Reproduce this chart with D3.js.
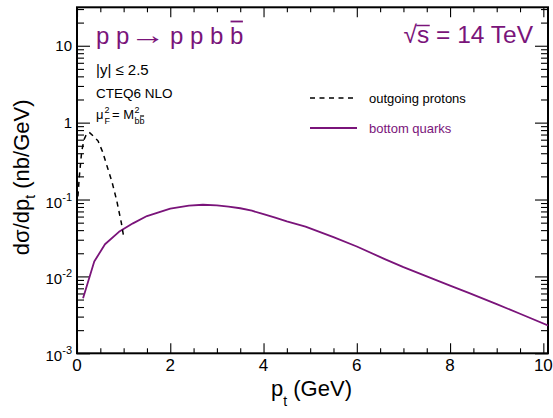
<!DOCTYPE html>
<html><head><meta charset="utf-8">
<script src="https://cdn.jsdelivr.net/npm/d3@7"></script>
<style>
body{margin:0;background:#fff}
text{font-family:"Liberation Sans",Arial,Helvetica,sans-serif}
</style></head><body>
<svg id="chart" width="553" height="418"></svg>
<script>
// transverse momentum (GeV) and dσ/dp_t (nb/GeV) for the b quarks
const ptBottom   = [0.13, 0.37, 0.6, 0.9, 1.2, 1.5, 2.0, 2.4, 2.7, 3.0, 3.25, 3.5, 3.75, 4.0, 4.25, 4.5, 4.9, 5.5, 6.0, 6.6, 7.0, 7.5, 8.0, 8.4, 9.0, 9.5, 10.1];
const xsecBottom = [0.0052, 0.0156, 0.0262, 0.038, 0.049, 0.061, 0.076, 0.0835, 0.0855, 0.084, 0.081, 0.077, 0.0715, 0.0645, 0.058, 0.052, 0.0445, 0.0324, 0.0245, 0.0168, 0.0132, 0.0100, 0.0076, 0.0061, 0.00436, 0.00327, 0.0023];
// same for the outgoing protons
const ptProton   = [0.02, 0.05, 0.1, 0.15, 0.2, 0.26, 0.35, 0.45, 0.55, 0.65, 0.75, 0.85, 0.95, 1.0];
const xsecProton = [0.11, 0.2, 0.42, 0.6, 0.7, 0.75, 0.67, 0.58, 0.415, 0.265, 0.17, 0.098, 0.05, 0.033];

const xMajorTicks = [0, 2, 4, 6, 8, 10];
const yDecades = [1e-3, 1e-2, 1e-1, 1, 10];
const yDecadeLabels = [["10", "-3"], ["10", "-2"], ["10", "-1"], ["1", ""], ["10", ""]];
const legendLabels = ["outgoing protons", "bottom quarks"];

const purple = "#7a147a";
const W = 553, H = 418;
const L = 77, R = 548, T = 7.3, B = 353.3;

const svg = d3.select("#chart");
svg.append("rect").attr("width", W).attr("height", H).attr("fill", "#fff");

const x = d3.scaleLinear().domain([0, 10.1]).range([L, R]);
const y = d3.scaleLog().domain([1e-3, Math.pow(10, 1.5)]).range([B, T]);

const xMinor = d3.range(0.5, 10.1, 0.5).filter(v => Math.abs(v % 2) > 1e-9);
const yMinor = [];
yDecades.forEach(d => { for (let m = 2; m <= 9; m++) if (d * m <= Math.pow(10, 1.5)) yMinor.push(d * m); });

// ticks on all four sides, pointing inward
function ticks(axisGen, tr, vals, size) {
  const g = svg.append("g").attr("transform", tr)
    .call(axisGen.tickValues(vals).tickSize(size).tickFormat(""));
  g.select(".domain").remove();
  g.selectAll("line").attr("stroke", "#000").attr("stroke-width", 1.1);
  return g;
}
ticks(d3.axisBottom(x), `translate(0,${B})`, xMajorTicks, -10);
ticks(d3.axisBottom(x), `translate(0,${B})`, xMinor, -5);
ticks(d3.axisTop(x), `translate(0,${T})`, xMajorTicks, -10);
ticks(d3.axisTop(x), `translate(0,${T})`, xMinor, -5);
ticks(d3.axisLeft(y), `translate(${L},0)`, yDecades, -13);
ticks(d3.axisLeft(y), `translate(${L},0)`, yMinor, -7);
ticks(d3.axisRight(y), `translate(${R},0)`, yDecades, -13);
ticks(d3.axisRight(y), `translate(${R},0)`, yMinor, -7);

// frame
svg.append("rect").attr("x", L).attr("y", T).attr("width", R - L).attr("height", B - T)
  .attr("fill", "none").attr("stroke", "#000").attr("stroke-width", 2);

// x tick labels
svg.append("g").selectAll("text").data(xMajorTicks).join("text")
  .attr("x", d => x(d)).attr("y", B + 18).attr("text-anchor", "middle")
  .style("font-size", "17px").text(d => d);

// y tick labels with exponents
yDecades.forEach((v, i) => {
  const [base, exp] = yDecadeLabels[i];
  const t = svg.append("text").attr("x", 72).attr("y", y(v) + (exp ? 8 : 5))
    .attr("text-anchor", "end").style("font-size", "15px");
  t.append("tspan").text(base);
  if (exp) t.append("tspan").attr("dy", -7).style("font-size", "11px").text(exp);
});

// axis titles
const xt = svg.append("text").attr("x", (L + R) / 2 - 1).attr("y", 396)
  .attr("text-anchor", "middle").style("font-size", "22px");
xt.append("tspan").text("p");
xt.append("tspan").attr("dy", 10).style("font-size", "14px").text("t");
xt.append("tspan").attr("dy", -10).text(" (GeV)");

const yt = svg.append("text").attr("transform", `translate(29,${(T + B) / 2 - 3}) rotate(-90)`)
  .attr("text-anchor", "middle").style("font-size", "22px");
yt.append("tspan").text("dσ/dp");
yt.append("tspan").attr("dy", 6).style("font-size", "14px").text("t");
yt.append("tspan").attr("dy", -6).text(" (nb/GeV)");

// curves
svg.append("clipPath").attr("id", "plotArea").append("rect")
  .attr("x", L).attr("y", T).attr("width", R - L).attr("height", B - T);
const line = d3.line().x(d => x(d[0])).y(d => y(d[1]));
svg.append("path").attr("clip-path", "url(#plotArea)")
  .attr("d", line(d3.zip(ptBottom, xsecBottom)))
  .attr("fill", "none").attr("stroke", purple).attr("stroke-width", 1.8)
  .attr("stroke-linejoin", "round");
svg.append("path").attr("clip-path", "url(#plotArea)")
  .attr("d", line(d3.zip(ptProton, xsecProton)))
  .attr("fill", "none").attr("stroke", "#000").attr("stroke-width", 1.5)
  .attr("stroke-dasharray", "5,4.5");

// overline helper: bar over character i of a text element
function overline(textSel, i, dyTop, color, width) {
  const n = textSel.node();
  const s = n.getStartPositionOfChar(i), e = n.getEndPositionOfChar(i);
  svg.append("line").attr("x1", s.x + 0.5).attr("x2", e.x - 0.5)
    .attr("y1", s.y - dyTop).attr("y2", s.y - dyTop)
    .attr("stroke", color).attr("stroke-width", width);
}

// process label: p p → p p b b̄
{
  const fs = "24px", by = 44;
  svg.append("text").attr("x", 96).attr("y", by).attr("fill", purple)
    .style("font-size", fs).text("p p");
  svg.append("text").attr("x", 130).attr("y", by).attr("fill", purple)
    .attr("textLength", 36).attr("lengthAdjust", "spacingAndGlyphs")
    .style("font-size", "26px").text("\u2192");
  const rhs = svg.append("text").attr("x", 170).attr("y", by).attr("fill", purple)
    .style("font-size", fs).text("p p b b");
  overline(rhs, rhs.text().length - 1, 22.5, purple, 1.8);
}

// centre-of-mass energy
const rs = svg.append("text").attr("x", 533).attr("y", 43).attr("fill", purple)
  .attr("text-anchor", "end").style("font-size", "24.5px").text("\u221As = 14 TeV");
{
  const n = rs.node();
  const s0 = n.getEndPositionOfChar(0), s1 = n.getEndPositionOfChar(1);
  svg.append("line").attr("x1", s0.x - 0.8).attr("x2", s1.x + 0.5)
    .attr("y1", s0.y - 17.5).attr("y2", s0.y - 17.5)
    .attr("stroke", purple).attr("stroke-width", 1.5);
}

// cuts and settings
svg.append("text").attr("x", 96).attr("y", 75).style("font-size", "15px").text("|y| \u2264 2.5");
svg.append("text").attr("x", 96).attr("y", 98).style("font-size", "13.5px").text("CTEQ6 NLO");

// factorisation scale: μ_F^2 = M_bb̄^2
{
  const by = 119;
  let cx = 96;
  const mu = svg.append("text").attr("x", cx).attr("y", by).style("font-size", "13px").text("μ");
  cx += mu.node().getComputedTextLength() + 1;
  const s1 = svg.append("text").attr("x", cx).attr("y", by - 6).style("font-size", "9px").text("2");
  const f = svg.append("text").attr("x", cx).attr("y", by + 5).style("font-size", "9px").text("F");
  cx += Math.max(s1.node().getComputedTextLength(), f.node().getComputedTextLength()) + 2;
  const eq = svg.append("text").attr("x", cx).attr("y", by).style("font-size", "13px").text("= M");
  cx += eq.node().getComputedTextLength() + 0.5;
  svg.append("text").attr("x", cx).attr("y", by - 6).style("font-size", "9px").text("2");
  const bb = svg.append("text").attr("x", cx).attr("y", by + 5).style("font-size", "9px").text("bb");
  overline(bb, 1, 8, "#000", 1.2);
}

// legend
const lg = svg.append("g");
[["#000", "5,4.5", 1.5], [purple, null, 1.8]].forEach((st, i) => {
  const ly = 98 + i * 30;
  lg.append("line").attr("x1", 310).attr("x2", 357).attr("y1", ly).attr("y2", ly)
    .attr("stroke", st[0]).attr("stroke-width", st[2]).attr("stroke-dasharray", st[1]);
  lg.append("text").attr("x", 369).attr("y", ly + 4.5).attr("fill", i ? purple : "#000")
    .style("font-size", "13px").text(legendLabels[i]);
});
</script>
</body></html>
